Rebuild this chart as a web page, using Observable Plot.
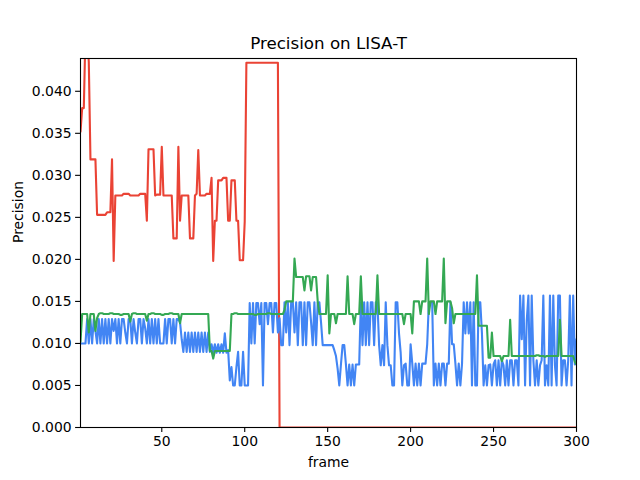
<!DOCTYPE html>
<html>
<head>
<meta charset="utf-8">
<script src="https://cdn.jsdelivr.net/npm/d3@7"></script>
<script src="https://cdn.jsdelivr.net/npm/@observablehq/plot@0.6"></script>
<style>
  html, body { margin: 0; padding: 0; background: white; }
</style>
</head>
<body>
<div id="chart"></div>
<script>
const title = "Precision on LISA-T";
const xLabel = "frame";
const yLabel = "Precision";
const xTicks = [50, 100, 150, 200, 250, 300];
const yTicks = [0, 0.005, 0.010, 0.015, 0.020, 0.025, 0.030, 0.035, 0.040];

// red series, frames 1..300
const redSeries = [
  0.0352,0.0380,0.0380,0.0470,0.0470,0.0435,0.0319,0.0319,0.0319,0.0319,
  0.0253,0.0253,0.0253,0.0253,0.0253,0.0253,0.0256,0.0256,0.0256,0.0319,
  0.0198,0.0276,0.0276,0.0276,0.0276,0.0276,0.0278,0.0278,0.0278,0.0278,
  0.0276,0.0276,0.0276,0.0276,0.0276,0.0276,0.0278,0.0278,0.0278,0.0278,
  0.0246,0.0331,0.0331,0.0331,0.0331,0.0276,0.0277,0.0277,0.0277,0.0334,
  0.0276,0.0276,0.0276,0.0276,0.0276,0.0276,0.0225,0.0225,0.0225,0.0334,
  0.0246,0.0276,0.0276,0.0276,0.0276,0.0276,0.0225,0.0225,0.0225,0.0276,
  0.0278,0.0330,0.0276,0.0276,0.0276,0.0276,0.0278,0.0278,0.0278,0.0297,
  0.0198,0.0246,0.0246,0.0294,0.0294,0.0294,0.0297,0.0297,0.0297,0.0246,
  0.0246,0.0294,0.0294,0.0294,0.0246,0.0246,0.0199,0.0199,0.0199,0.0245,
  0.0434,0.0434,0.0434,0.0434,0.0434,0.0434,0.0434,0.0434,0.0434,0.0434,
  0.0434,0.0434,0.0434,0.0434,0.0434,0.0434,0.0434,0.0434,0.0434,0.0434,
  0,0,0,0,0,0,0,0,0,0,
  0,0,0,0,0,0,0,0,0,0,
  0,0,0,0,0,0,0,0,0,0,
  0,0,0,0,0,0,0,0,0,0,
  0,0,0,0,0,0,0,0,0,0,
  0,0,0,0,0,0,0,0,0,0,
  0,0,0,0,0,0,0,0,0,0,
  0,0,0,0,0,0,0,0,0,0,
  0,0,0,0,0,0,0,0,0,0,
  0,0,0,0,0,0,0,0,0,0,
  0,0,0,0,0,0,0,0,0,0,
  0,0,0,0,0,0,0,0,0,0,
  0,0,0,0,0,0,0,0,0,0,
  0,0,0,0,0,0,0,0,0,0,
  0,0,0,0,0,0,0,0,0,0,
  0,0,0,0,0,0,0,0,0,0,
  0,0,0,0,0,0,0,0,0,0,
  0,0,0,0,0,0,0,0,0,0
];

// green series, frames 1..300
const greenSeries = [
  0.0102,0.0135,0.0135,0.0135,0.0135,0.0113,0.0135,0.0135,0.0135,0.0115,
  0.0130,0.0135,0.0136,0.0136,0.0135,0.0135,0.0135,0.0135,0.0136,0.0136,
  0.0135,0.0135,0.0135,0.0135,0.0134,0.0134,0.0135,0.0135,0.0135,0.0135,
  0.0126,0.0135,0.0136,0.0136,0.0135,0.0135,0.0135,0.0135,0.0135,0.0135,
  0.0127,0.0135,0.0135,0.0136,0.0136,0.0135,0.0135,0.0135,0.0135,0.0134,
  0.0134,0.0135,0.0135,0.0135,0.0136,0.0136,0.0135,0.0135,0.0135,0.0135,
  0.0124,0.0135,0.0135,0.0135,0.0135,0.0135,0.0135,0.0135,0.0135,0.0135,
  0.0135,0.0135,0.0135,0.0135,0.0135,0.0135,0.0135,0.0135,0.0091,0.0091,
  0.0082,0.0091,0.0091,0.0091,0.0091,0.0091,0.0091,0.0091,0.0091,0.0091,
  0.0091,0.0135,0.0135,0.0136,0.0136,0.0135,0.0135,0.0135,0.0135,0.0135,
  0.0135,0.0135,0.0135,0.0135,0.0135,0.0134,0.0134,0.0135,0.0135,0.0135,
  0.0135,0.0135,0.0135,0.0136,0.0136,0.0135,0.0135,0.0135,0.0135,0.0135,
  0.0135,0.0135,0.0135,0.0140,0.0150,0.0150,0.0150,0.0150,0.0150,0.0201,
  0.0179,0.0179,0.0179,0.0179,0.0179,0.0163,0.0180,0.0180,0.0180,0.0163,
  0.0179,0.0179,0.0179,0.0150,0.0135,0.0135,0.0135,0.0135,0.0135,0.0181,
  0.0112,0.0135,0.0135,0.0135,0.0124,0.0135,0.0135,0.0135,0.0135,0.0135,
  0.0135,0.0180,0.0135,0.0135,0.0135,0.0123,0.0135,0.0135,0.0135,0.0180,
  0.0135,0.0135,0.0135,0.0135,0.0135,0.0135,0.0135,0.0135,0.0135,0.0181,
  0.0135,0.0135,0.0135,0.0135,0.0135,0.0135,0.0135,0.0135,0.0135,0.0135,
  0.0135,0.0135,0.0135,0.0135,0.0135,0.0123,0.0135,0.0135,0.0135,0.0135,
  0.0112,0.0150,0.0150,0.0150,0.0150,0.0135,0.0150,0.0150,0.0150,0.0201,
  0.0135,0.0150,0.0150,0.0150,0.0135,0.0150,0.0150,0.0150,0.0150,0.0201,
  0.0124,0.0150,0.0150,0.0150,0.0142,0.0124,0.0135,0.0135,0.0135,0.0135,
  0.0135,0.0135,0.0135,0.0135,0.0135,0.0135,0.0135,0.0135,0.0135,0.0181,
  0.0121,0.0121,0.0121,0.0121,0.0121,0.0121,0.0083,0.0083,0.0113,0.0085,
  0.0085,0.0085,0.0085,0.0085,0.0079,0.0085,0.0085,0.0085,0.0085,0.0128,
  0.0085,0.0085,0.0085,0.0085,0.0085,0.0085,0.0085,0.0085,0.0085,0.0085,
  0.0085,0.0085,0.0085,0.0085,0.0085,0.0086,0.0086,0.0085,0.0085,0.0085,
  0.0084,0.0085,0.0085,0.0085,0.0085,0.0085,0.0085,0.0085,0.0085,0.0128,
  0.0085,0.0085,0.0085,0.0085,0.0085,0.0085,0.0085,0.0085,0.0078,0.0075
];

// blue series, frames 1..300
const blueSeries = [
  0.0100,0.0100,0.0100,0.0100,0.0129,0.0100,0.0129,0.0100,0.0129,0.0115,
  0.0100,0.0129,0.0100,0.0129,0.0100,0.0129,0.0100,0.0129,0.0100,0.0129,
  0.0115,0.0129,0.0100,0.0129,0.0100,0.0129,0.0129,0.0113,0.0100,0.0129,
  0.0129,0.0100,0.0129,0.0113,0.0100,0.0129,0.0129,0.0100,0.0129,0.0118,
  0.0100,0.0129,0.0100,0.0129,0.0100,0.0129,0.0100,0.0129,0.0100,0.0100,
  0.0100,0.0129,0.0100,0.0129,0.0129,0.0100,0.0129,0.0100,0.0129,0.0129,
  0.0125,0.0105,0.0090,0.0113,0.0090,0.0113,0.0090,0.0113,0.0090,0.0113,
  0.0090,0.0113,0.0090,0.0113,0.0090,0.0113,0.0090,0.0113,0.0090,0.0099,
  0.0089,0.0099,0.0089,0.0099,0.0089,0.0099,0.0089,0.0112,0.0089,0.0092,
  0.0056,0.0072,0.0050,0.0050,0.0072,0.0090,0.0050,0.0050,0.0090,0.0050,
  0.0050,0.0050,0.0148,0.0100,0.0148,0.0100,0.0148,0.0148,0.0123,0.0148,
  0.0050,0.0148,0.0148,0.0123,0.0148,0.0148,0.0113,0.0148,0.0148,0.0113,
  0.0130,0.0098,0.0098,0.0149,0.0113,0.0149,0.0098,0.0149,0.0149,0.0113,
  0.0149,0.0098,0.0149,0.0149,0.0098,0.0149,0.0098,0.0149,0.0149,0.0125,
  0.0098,0.0149,0.0098,0.0149,0.0149,0.0125,0.0098,0.0098,0.0098,0.0098,
  0.0098,0.0098,0.0098,0.0092,0.0085,0.0070,0.0050,0.0075,0.0098,0.0098,
  0.0075,0.0050,0.0075,0.0050,0.0075,0.0050,0.0075,0.0075,0.0075,0.0149,
  0.0098,0.0149,0.0098,0.0149,0.0098,0.0149,0.0149,0.0098,0.0149,0.0149,
  0.0098,0.0074,0.0098,0.0074,0.0149,0.0098,0.0074,0.0074,0.0050,0.0050,
  0.0149,0.0149,0.0112,0.0089,0.0050,0.0074,0.0076,0.0050,0.0050,0.0099,
  0.0076,0.0050,0.0076,0.0050,0.0076,0.0050,0.0076,0.0076,0.0076,0.0099,
  0.0149,0.0149,0.0149,0.0050,0.0076,0.0050,0.0076,0.0050,0.0076,0.0076,
  0.0050,0.0076,0.0076,0.0149,0.0099,0.0099,0.0076,0.0050,0.0076,0.0050,
  0.0076,0.0149,0.0112,0.0149,0.0112,0.0149,0.0050,0.0149,0.0050,0.0050,
  0.0149,0.0149,0.0112,0.0050,0.0074,0.0050,0.0074,0.0075,0.0050,0.0075,
  0.0080,0.0050,0.0080,0.0050,0.0080,0.0074,0.0050,0.0080,0.0050,0.0080,
  0.0080,0.0050,0.0080,0.0080,0.0050,0.0157,0.0105,0.0157,0.0050,0.0127,
  0.0157,0.0050,0.0157,0.0080,0.0050,0.0080,0.0050,0.0074,0.0080,0.0157,
  0.0050,0.0074,0.0050,0.0157,0.0050,0.0157,0.0074,0.0050,0.0157,0.0157,
  0.0050,0.0080,0.0080,0.0050,0.0080,0.0157,0.0050,0.0157,0.0075,0.0105
];

const frames = redSeries.map((_, i) => i + 1);
const toRows = s => frames.map((f, i) => ({frame: f, value: s[i]}));

const lineOpts = (color) => ({x: "frame", y: "value", stroke: color, strokeWidth: 2.1, clip: true});

const chart = Plot.plot({
  width: 640,
  height: 480,
  marginLeft: 80,
  marginRight: 64,
  marginTop: 58,
  marginBottom: 53,
  style: {fontFamily: "DejaVu Sans", fontSize: "13.9px", background: "white", color: "black", overflow: "visible"},
  x: {domain: [1, 300]},
  y: {domain: [0, 0.0439]},
  marks: [
    Plot.lineY(toRows(redSeries), lineOpts("#EA4335")),
    Plot.lineY(toRows(blueSeries), lineOpts("#4285F4")),
    Plot.lineY(toRows(greenSeries), lineOpts("#34A853")),
    Plot.frame({stroke: "black", strokeWidth: 1.1}),
    Plot.axisX({ticks: xTicks, tickSize: 4.9, tickPadding: 4, label: null, tickFormat: d => String(d), strokeWidth: 1.1}),
    Plot.axisY({ticks: yTicks, tickSize: 4.9, tickPadding: 4, label: null, tickFormat: d3.format(".3f"), strokeWidth: 1.1}),
    Plot.text([title], {frameAnchor: "top", dy: -15, fontSize: 16.7, lineAnchor: "middle"}),
    Plot.text([xLabel], {frameAnchor: "bottom", dy: 35, fontSize: 13.9, lineAnchor: "middle"}),
    Plot.text([yLabel], {frameAnchor: "left", dx: -62, rotate: -90, fontSize: 13.9, lineAnchor: "middle"})
  ]
});
document.getElementById("chart").appendChild(chart);
</script>
</body>
</html>
